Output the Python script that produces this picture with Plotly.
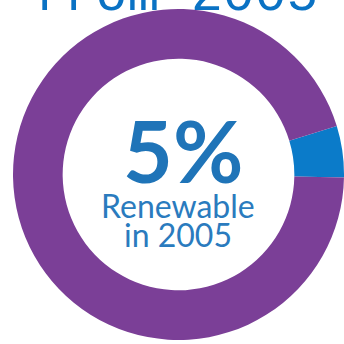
import plotly.graph_objects as go

labels = ["Renewable", "Other"]
values = [5, 95]
colors = ["#0B7BC9", "#7B3F97"]
title_text = "from 2005"
center_big = "5%"
center_line1 = "Renewable"
center_line2 = "in 2005"

W = H = 344
cx, cy, r = 178.5, 174.5, 165.5

fig = go.Figure(go.Pie(
    labels=labels, values=values, hole=0.70, sort=False,
    direction="clockwise", rotation=73,
    marker=dict(colors=colors, line=dict(width=0)),
    textinfo="none", hoverinfo="label+percent", showlegend=False,
    domain=dict(x=[(cx - r) / W, (cx + r) / W], y=[(H - cy - r) / H, (H - cy + r) / H]),
))

def px(x): return x / W
def py(y): return 1 - y / H

fig.add_annotation(x=px(175), y=py(-4), xref="paper", yref="paper", text=title_text,
                   showarrow=False, font=dict(family="Liberation Mono", size=53, color="#0A72C4"),
                   xanchor="center", yanchor="middle")
fig.add_annotation(x=px(183), y=py(149), xref="paper", yref="paper", text="<b>" + center_big + "</b>",
                   showarrow=False, font=dict(family="Lato", size=86, color="#1F74B8"),
                   xanchor="center", yanchor="middle")
fig.add_annotation(x=px(178), y=py(206), xref="paper", yref="paper", text=center_line1,
                   showarrow=False, font=dict(family="Lato", size=32, color="#2A7BBE"),
                   xanchor="center", yanchor="middle")
fig.add_annotation(x=px(178), y=py(234), xref="paper", yref="paper", text=center_line2,
                   showarrow=False, font=dict(family="Lato", size=32, color="#2A7BBE"),
                   xanchor="center", yanchor="middle")

fig.update_layout(width=W, height=H, margin=dict(l=0, r=0, t=0, b=0),
                  paper_bgcolor="white", plot_bgcolor="white")
fig.write_html("out.html", config={"displayModeBar": False},
               post_script="document.body.style.margin='0';")
